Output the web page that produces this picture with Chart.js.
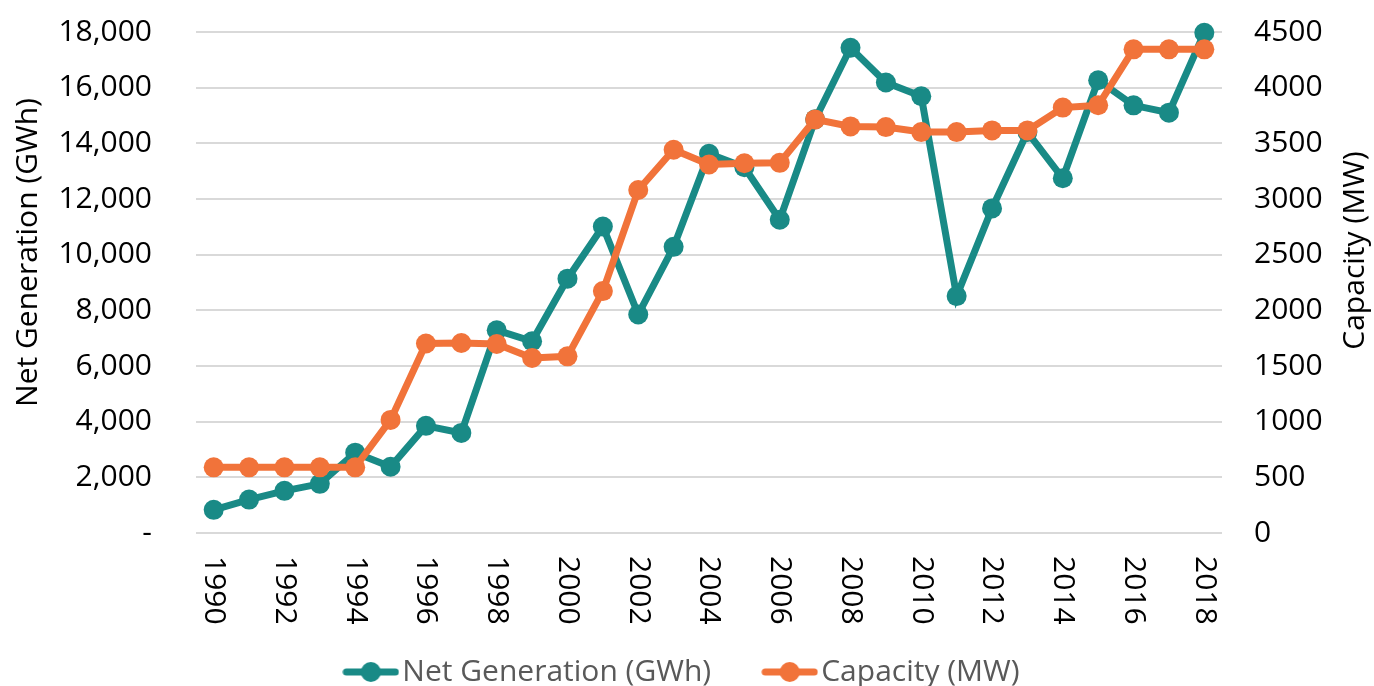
<!DOCTYPE html>
<html>
<head>
<meta charset="utf-8">
<script src="https://cdn.jsdelivr.net/npm/chart.js@4.4.1/dist/chart.umd.min.js"></script>
<style>
  html, body { margin: 0; padding: 0; background: #fff; }
  #wrap { width: 1374px; height: 686px; }
</style>
</head>
<body>
<div id="wrap"><canvas id="genChart" width="1374" height="686"></canvas></div>
<script>
const years = [];
for (let y = 1990; y <= 2018; y++) years.push(String(y));

const netGeneration = [
  831, 1201, 1515, 1767, 2886, 2381, 3849, 3596, 7286, 6890,
  9137, 11013, 7852, 10280, 13623, 13141, 11254, 14861, 17433, 16185,
  15690, 8512, 11662, 14403, 12744, 16268, 15366, 15102, 17974
];
const capacity = [
  590, 590, 590, 590, 590, 1016, 1702, 1707, 1698, 1572,
  1587, 2173, 3081, 3442, 3310, 3321, 3325, 3715, 3652, 3646,
  3601, 3601, 3616, 3616, 3821, 3842, 4344, 4344, 4344
];
const leftTicks = [0, 2000, 4000, 6000, 8000, 10000, 12000, 14000, 16000, 18000];
const rightTicks = [0, 500, 1000, 1500, 2000, 2500, 3000, 3500, 4000, 4500];
const leftTitle = "Net Generation (GWh)";
const rightTitle = "Capacity (MW)";

const TEAL = "#198a86";
const ORANGE = "#f1733a";
const FONT = "'Open Sans', 'Noto Sans', sans-serif";
const FS = 30;

// legend marker: short line with a dot in the middle
function legendMarker(color) {
  const c = document.createElement("canvas");
  c.width = 57; c.height = 22;
  const g = c.getContext("2d");
  g.strokeStyle = color;
  g.lineWidth = 7;
  g.lineCap = "round";
  g.beginPath(); g.moveTo(4, 11); g.lineTo(53, 11); g.stroke();
  g.fillStyle = color;
  g.beginPath(); g.arc(28.5, 11, 10, 0, Math.PI * 2); g.fill();
  return c;
}

// year labels read top-to-bottom, both axis titles read bottom-to-top
const axisText = {
  id: "axisText",
  afterDraw(chart) {
    const ctx = chart.ctx;
    const area = chart.chartArea;
    const x = chart.scales.x;
    ctx.save();
    ctx.font = FS + "px " + FONT;
    ctx.fillStyle = "#000";
    ctx.textBaseline = "middle";

    ctx.textAlign = "left";
    years.forEach((yr, i) => {
      if (i % 2 !== 0) return;
      ctx.save();
      ctx.translate(x.getPixelForValue(i), area.bottom + 23);
      ctx.rotate(Math.PI / 2);
      ctx.fillText(yr, 0, 0);
      ctx.restore();
    });

    const midY = (area.top + area.bottom) / 2 - 30;
    ctx.textAlign = "center";
    ctx.save();
    ctx.translate(chart.scales.y.left + 28, midY);
    ctx.rotate(-Math.PI / 2);
    ctx.fillText(leftTitle, 0, 0);
    ctx.restore();
    ctx.save();
    ctx.translate(chart.scales.y1.right - 19, midY - 2);
    ctx.rotate(-Math.PI / 2);
    ctx.fillText(rightTitle, 0, 0);
    ctx.restore();
    ctx.restore();
  }
};

const ctx = document.getElementById("genChart").getContext("2d");
new Chart(ctx, {
  type: "line",
  data: {
    labels: years,
    datasets: [
      {
        label: "Net Generation (GWh)",
        data: netGeneration,
        yAxisID: "y",
        borderColor: TEAL,
        backgroundColor: TEAL,
        borderWidth: 7,
        pointRadius: 10,
        pointBorderWidth: 0,
        pointBackgroundColor: TEAL,
        tension: 0,
        clip: false,
        order: 1
      },
      {
        label: "Capacity (MW)",
        data: capacity,
        yAxisID: "y1",
        borderColor: ORANGE,
        backgroundColor: ORANGE,
        borderWidth: 7,
        pointRadius: 10,
        pointBorderWidth: 0,
        pointBackgroundColor: ORANGE,
        tension: 0,
        clip: false,
        order: 0
      }
    ]
  },
  options: {
    responsive: false,
    animation: false,
    layout: { padding: { top: 32, bottom: -11 } },
    scales: {
      x: {
        offset: true,
        grid: { display: false },
        border: { display: false },
        ticks: { display: false },
        afterFit: s => { s.height = 62; }
      },
      y: {
        position: "left",
        min: 0,
        max: 18000,
        afterBuildTicks: s => { s.ticks = leftTicks.map(v => ({ value: v })); },
        grid: { color: "#d9d9d9", lineWidth: 2, drawTicks: true, tickLength: 44, tickColor: "rgba(0,0,0,0)" },
        border: { display: false },
        ticks: {
          padding: 0,
          color: "#000",
          font: { family: FONT, size: FS },
          callback: v => v === 0 ? "-" : v.toLocaleString("en-US")
        },
        afterFit: s => { s.width = 196; }
      },
      y1: {
        position: "right",
        min: 0,
        max: 4500,
        afterBuildTicks: s => { s.ticks = rightTicks.map(v => ({ value: v })); },
        grid: { drawOnChartArea: false, drawTicks: true, tickLength: 32, tickColor: "rgba(0,0,0,0)" },
        border: { display: false },
        ticks: {
          padding: 0,
          color: "#000",
          font: { family: FONT, size: FS },
          callback: v => String(v)
        },
        afterFit: s => { s.width = 152; }
      }
    },
    plugins: {
      tooltip: { enabled: false },
      legend: {
        position: "bottom",
        labels: {
          usePointStyle: true,
          pointStyleWidth: 33,
          padding: 62,
          color: "#595959",
          font: { family: FONT, size: FS },
          generateLabels: chart => chart.data.datasets.map((ds, i) => ({
            text: ds.label,
            fillStyle: ds.borderColor,
            strokeStyle: ds.borderColor,
            lineWidth: 0,
            pointStyle: legendMarker(ds.borderColor),
            fontColor: "#595959",
            hidden: false,
            datasetIndex: i
          }))
        }
      }
    }
  },
  plugins: [axisText]
});
</script>
</body>
</html>
